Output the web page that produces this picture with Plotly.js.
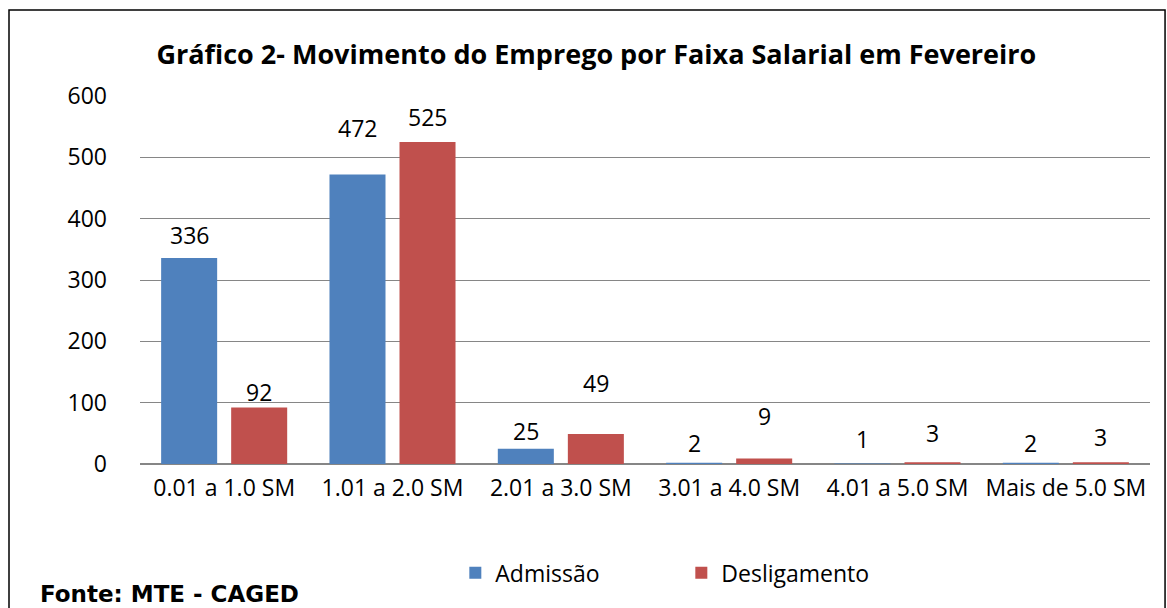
<!DOCTYPE html>
<html><head><meta charset="utf-8">
<script src="https://cdn.plot.ly/plotly-3.0.1.min.js"></script>
<style>html,body{margin:0;padding:0;background:#fff}#c{width:1167px;height:608px}</style>
</head><body><div id="c"></div>
<script>
const categories = ["0.01 a 1.0 SM","1.01 a 2.0 SM","2.01 a 3.0 SM","3.01 a 4.0 SM","4.01 a 5.0 SM","Mais de 5.0 SM"];
const admissao = [336, 472, 25, 2, 1, 2];
const desligamento = [92, 525, 49, 9, 3, 3];
const yTicks = [0, 100, 200, 300, 400, 500, 600];
// vertical offset (px) of each data label above its bar, as placed in the original
const admissaoLabelLift = [16, 40, 11, 13, 17, 13];
const desligamentoLabelLift = [9, 18, 44, 35, 22, 18];

const FONT = "'Open Sans', 'Noto Sans', sans-serif";
const traces = [
  {type:'bar', name:'Admissão', x:categories, y:admissao, marker:{color:'#4F81BD'}},
  {type:'bar', name:'Desligamento', x:categories, y:desligamento, marker:{color:'#C0504D'}}
];
const labelAnn = [];
[[admissao, admissaoLabelLift, -35], [desligamento, desligamentoLabelLift, 35]].forEach(([vals, lift, dx]) => {
  vals.forEach((v, i) => labelAnn.push({
    x: categories[i], y: v, xref:'x', yref:'y', text: String(v), showarrow:false,
    xanchor:'center', yanchor:'bottom', xshift: dx, yshift: lift[i] - 11,
    font:{family:FONT, size:23, color:'#000'}
  }));
});
const layout = {
  width:1167, height:608,
  margin:{l:140, r:17, t:96, b:144},
  paper_bgcolor:'#fff', plot_bgcolor:'#fff',
  font:{family:FONT, size:23, color:'#000'},
  title:{text:'<b>Gráfico 2- Movimento do Emprego por Faixa Salarial em Fevereiro</b>',
         font:{family:FONT, size:27, color:'#000'}, x:0.511, xref:'container', xanchor:'center',
         y:0.91, yref:'container', yanchor:'middle'},
  barmode:'group', bargap:0.168, bargroupgap:0.2,
  xaxis:{type:'category', tickfont:{family:FONT, size:23, color:'#000'}, showline:false, ticks:'', showgrid:false,
         automargin:false, ticklabelstandoff:8},
  yaxis:{range:[0,600], tickvals:yTicks, ticktext:yTicks.map(String), showgrid:true, gridcolor:'#868686', gridwidth:1,
         zeroline:true, zerolinecolor:'#868686', zerolinewidth:1.5, showline:false, ticks:'', ticklabelstandoff:32,
         tickfont:{family:FONT, size:23, color:'#000'}, automargin:false},
  showlegend:true,
  legend:{orientation:'h', x:0.3122, xanchor:'left', y:-0.237, yanchor:'top', entrywidth:181,
          font:{family:FONT, size:23, color:'#000'}},
  shapes:[{type:'rect', xref:'paper', yref:'paper', x0:-0.1297, x1:1.0149, y0:-0.6, y1:1.234,
           line:{color:'#000', width:1.5}, fillcolor:'rgba(0,0,0,0)', layer:'below'}],
  annotations:[{text:'<b>Fonte: MTE - CAGED</b>', xref:'paper', yref:'paper', x:-0.101, y:-0.353,
                xanchor:'left', yanchor:'middle', showarrow:false,
                font:{family:'DejaVu Sans, sans-serif', size:23, color:'#000'}}].concat(labelAnn)
};
Plotly.newPlot('c', traces, layout, {displayModeBar:false, staticPlot:true});
</script></body></html>
